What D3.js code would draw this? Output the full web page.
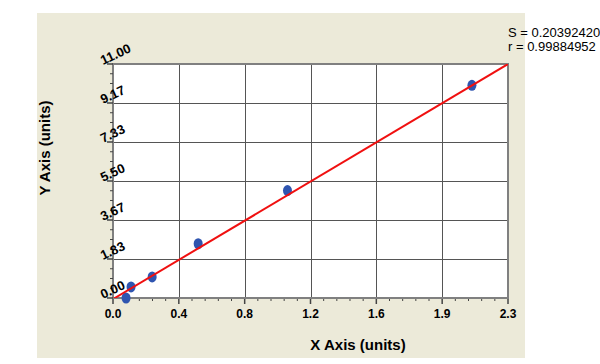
<!DOCTYPE html>
<html>
<head>
<meta charset="utf-8">
<script src="https://cdn.jsdelivr.net/npm/d3@7"></script>
<style>
  body { margin: 0; background: #fff; }
  svg { display: block; font-family: Arial, "Liberation Sans", sans-serif; }
</style>
</head>
<body>
<svg width="600" height="364"></svg>
<script>
  // data
  var pointsX = [0.076, 0.105, 0.228, 0.496, 1.016, 2.09];
  var pointsY = [0.0, 0.52, 0.99, 2.55, 5.05, 10.0];
  var fitX = [0, 2.3];
  var fitY = [-0.05, 11.0];
  var xTicks = [0, 0.3833, 0.7667, 1.15, 1.5333, 1.9167, 2.3];
  var xLabels = ["0.0", "0.4", "0.8", "1.2", "1.6", "1.9", "2.3"];
  var yTicks = [0, 1.8333, 3.6667, 5.5, 7.3333, 9.1667, 11];
  var yLabels = ["0.00", "1.83", "3.67", "5.50", "7.33", "9.17", "11.00"];
  var stats = ["S = 0.20392420", "r = 0.99884952"];

  var svg = d3.select("svg");

  // beige panel first so it sits behind the plot
  svg.append("rect")
    .attr("x", 37).attr("y", 13)
    .attr("width", 488).attr("height", 345)
    .attr("fill", "#ecead9");

  var margin = {top: 64, left: 113},
      width = 395,
      height = 234,
      g = svg.append("g").attr("transform", "translate(" + margin.left + "," + margin.top + ")");

  var x = d3.scaleLinear().domain([0, 2.3]).range([0, width]),
      y = d3.scaleLinear().domain([0, 11]).range([height, 0]);

  g.append("rect")
    .attr("width", width).attr("height", height)
    .attr("fill", "#fff");

  // grid
  g.append("g").selectAll("line")
    .data(xTicks.slice(1, -1))
    .enter().append("line")
    .attr("x1", function(d) { return Math.round(x(d)) + 0.5; })
    .attr("x2", function(d) { return Math.round(x(d)) + 0.5; })
    .attr("y1", 0).attr("y2", height)
    .attr("stroke", "#555").attr("stroke-width", 1);

  g.append("g").selectAll("line")
    .data(yTicks.slice(1, -1))
    .enter().append("line")
    .attr("y1", function(d) { return Math.round(y(d)) + 0.5; })
    .attr("y2", function(d) { return Math.round(y(d)) + 0.5; })
    .attr("x1", 0).attr("x2", width)
    .attr("stroke", "#555").attr("stroke-width", 1);

  // minor ticks
  var xMinor = [], yMinor = [];
  for (var i = 0; i < xTicks.length - 1; i++)
    for (var k = 1; k < 5; k++) xMinor.push(xTicks[i] + (xTicks[i + 1] - xTicks[i]) * k / 5);
  for (var j = 0; j < yTicks.length - 1; j++)
    for (var m = 1; m < 4; m++) yMinor.push(yTicks[j] + (yTicks[j + 1] - yTicks[j]) * m / 4);

  var xAxis = g.append("g")
    .attr("transform", "translate(0," + height + ")");
  xAxis.selectAll(".minor")
    .data(xMinor).enter().append("line")
    .attr("x1", function(d) { return x(d); }).attr("x2", function(d) { return x(d); })
    .attr("y1", 0).attr("y2", 3)
    .attr("stroke", "#444");
  xAxis.selectAll(".major")
    .data(xTicks).enter().append("line")
    .attr("x1", function(d) { return x(d); }).attr("x2", function(d) { return x(d); })
    .attr("y1", 0).attr("y2", 6)
    .attr("stroke", "#444").attr("stroke-width", 1.5);
  xAxis.selectAll("text")
    .data(xTicks).enter().append("text")
    .attr("x", function(d) { return x(d); })
    .attr("y", 20)
    .attr("text-anchor", "middle")
    .style("font-size", "12px").style("font-weight", "bold")
    .text(function(d, i) { return xLabels[i]; });

  var yAxis = g.append("g");
  yAxis.selectAll(".minor")
    .data(yMinor).enter().append("line")
    .attr("y1", function(d) { return y(d); }).attr("y2", function(d) { return y(d); })
    .attr("x1", 0).attr("x2", -3)
    .attr("stroke", "#444");
  yAxis.selectAll(".major")
    .data(yTicks).enter().append("line")
    .attr("y1", function(d) { return y(d); }).attr("y2", function(d) { return y(d); })
    .attr("x1", 0).attr("x2", -6)
    .attr("stroke", "#444").attr("stroke-width", 1.5);

  // frame
  g.append("rect")
    .attr("width", width).attr("height", height)
    .attr("fill", "none").attr("stroke", "#808080").attr("stroke-width", 2);

  yAxis.selectAll("text")
    .data(yTicks).enter().append("text")
    .attr("transform", function(d) { return "translate(-10," + (y(d) + 1) + ") rotate(-25)"; })
    .style("font-size", "13px").style("font-weight", "bold")
    .text(function(d, i) { return yLabels[i]; });
  yAxis.raise();

  // points
  g.selectAll(".pt")
    .data(d3.range(pointsX.length)).enter().append("ellipse")
    .attr("cx", function(i) { return x(pointsX[i]); })
    .attr("cy", function(i) { return y(pointsY[i]); })
    .attr("rx", 4.5).attr("ry", 5.5)
    .attr("fill", "#2f55b0");

  // fitted line
  g.append("clipPath").attr("id", "clip")
    .append("rect").attr("width", width).attr("height", height);
  var line = d3.line()
    .x(function(i) { return x(fitX[i]); })
    .y(function(i) { return y(fitY[i]); });
  g.append("path")
    .datum(d3.range(fitX.length))
    .attr("clip-path", "url(#clip)")
    .attr("d", line)
    .attr("fill", "none").attr("stroke", "#f01010").attr("stroke-width", 2);

  // titles
  svg.append("text")
    .attr("x", 358).attr("y", 350)
    .attr("text-anchor", "middle")
    .style("font-size", "15px").style("font-weight", "bold")
    .text("X Axis (units)");
  svg.append("text")
    .attr("transform", "translate(50,148) rotate(-90)")
    .attr("text-anchor", "middle")
    .style("font-size", "15px").style("font-weight", "bold")
    .text("Y Axis (units)");

  svg.selectAll(".stat")
    .data(stats).enter().append("text")
    .attr("x", 508)
    .attr("y", function(d, i) { return 37 + i * 14; })
    .style("font-size", "13px")
    .text(function(d) { return d; });
</script>
</body>
</html>
